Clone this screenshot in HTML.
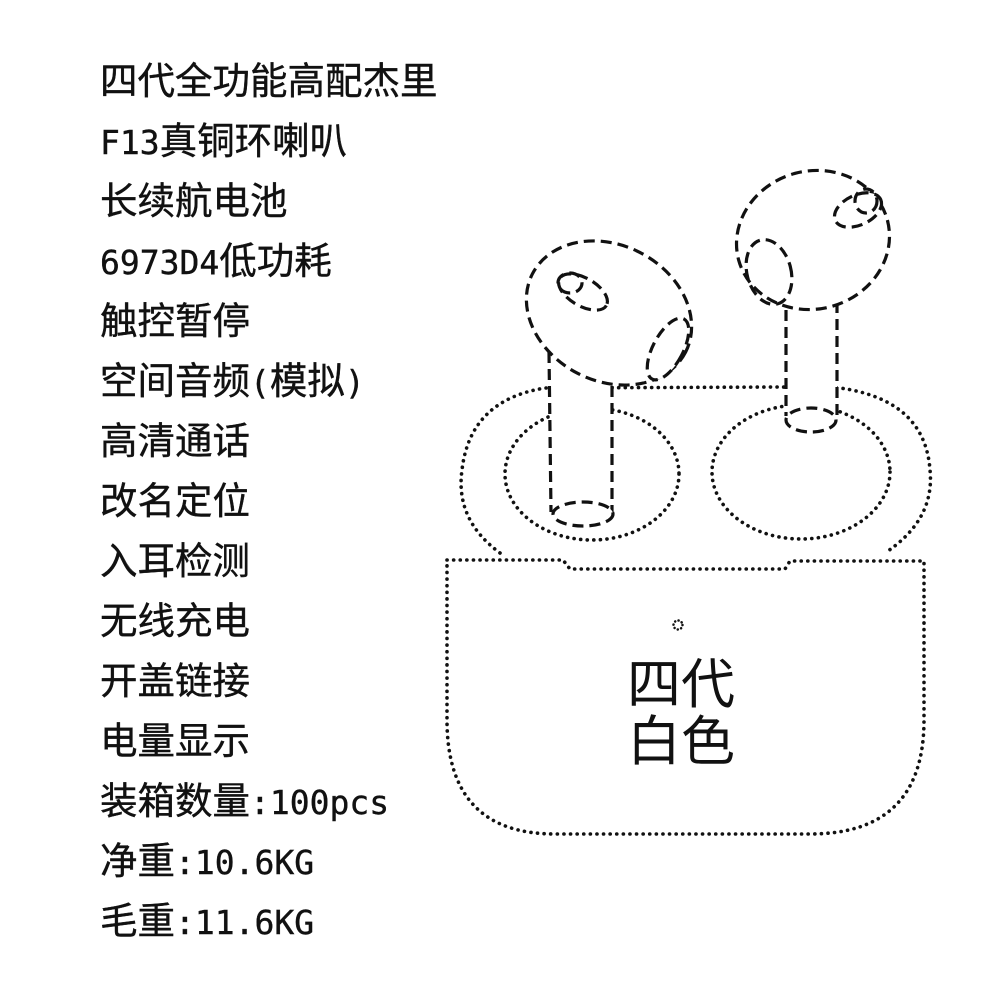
<!DOCTYPE html>
<html><head><meta charset="utf-8"><style>
html,body{margin:0;padding:0;background:#fff;}
body{width:1000px;height:1000px;position:relative;overflow:hidden;}
.t{position:absolute;left:100px;font-family:"DejaVu Sans Mono","Noto Sans CJK SC",monospace;font-size:37.5px;line-height:40px;color:#111;white-space:nowrap;-webkit-text-stroke:0.4px #111;}
.t span{font-size:33px;}
.c{position:absolute;left:627px;font-family:"Liberation Sans","Noto Sans CJK SC",sans-serif;font-size:54px;line-height:56px;color:#111;}
</style></head><body>
<div class="t" style="top:61px">四代全功能高配杰里</div>
<div class="t" style="top:121px"><span>F13</span>真铜环喇叭</div>
<div class="t" style="top:181px">长续航电池</div>
<div class="t" style="top:241px"><span>6973D4</span>低功耗</div>
<div class="t" style="top:301px">触控暂停</div>
<div class="t" style="top:361px">空间音频<span>(</span>模拟<span>)</span></div>
<div class="t" style="top:421px">高清通话</div>
<div class="t" style="top:481px">改名定位</div>
<div class="t" style="top:541px">入耳检测</div>
<div class="t" style="top:601px">无线充电</div>
<div class="t" style="top:661px">开盖链接</div>
<div class="t" style="top:721px">电量显示</div>
<div class="t" style="top:781px">装箱数量<span>:100pcs</span></div>
<div class="t" style="top:841px">净重<span>:10.6KG</span></div>
<div class="t" style="top:901px">毛重<span>:11.6KG</span></div>
<svg width="1000" height="1000" style="position:absolute;left:0;top:0">
<g fill="none" stroke="#111" stroke-width="3.6" stroke-dasharray="0.1 6.5" stroke-linecap="round">
<path d="M447 560 L563 560 L570 569 L785 569 L790 561 L924 561 L924 720 Q924 834 810 834 L555 834 Q447 834 447 720 Z"/>
<path d="M500 553 Q455 520 462 470 Q470 400 545 388 L780 387 L840 388 Q925 400 930 470 Q935 520 885 553"/>
<ellipse cx="592" cy="474" rx="87" ry="66"/>
<ellipse cx="801" cy="472" rx="89" ry="67"/>
<circle cx="678" cy="625" r="4.5" stroke-width="2.5" stroke-dasharray="0.1 3.5"/>
</g>
<g fill="#fff" stroke="#111" stroke-width="3.2" stroke-dasharray="11 6">
<path d="M549 350 L551 512 L612 512 L612 386 Z" fill="#fff" stroke="none"/>
<line x1="549" y1="352" x2="551" y2="512"/>
<line x1="612" y1="386" x2="612" y2="512"/>
<ellipse cx="583" cy="514" rx="30" ry="12"/>
<ellipse cx="609" cy="313" rx="86" ry="68" transform="rotate(27 609 313)"/>
<ellipse cx="583" cy="292" rx="27" ry="14" transform="rotate(30 583 292)"/>
<ellipse cx="570" cy="283" rx="12" ry="10" fill="none"/>
<ellipse cx="668" cy="349" rx="15" ry="34" transform="rotate(28 668 349)"/>
<rect x="786" y="305" width="51" height="112" fill="#fff" stroke="none"/>
<line x1="786" y1="310" x2="786" y2="416"/>
<line x1="837" y1="302" x2="837" y2="418"/>
<ellipse cx="811" cy="420" rx="25" ry="12"/>
<ellipse cx="813" cy="240" rx="77" ry="69" transform="rotate(-15 813 240)"/>
<ellipse cx="858" cy="210" rx="25" ry="15" transform="rotate(-25 858 210)"/>
<ellipse cx="866" cy="201" rx="11" ry="12" fill="none"/>
<ellipse cx="769" cy="272" rx="22" ry="33" transform="rotate(-15 769 272)" fill="none"/>
</g>
</svg>
<div class="c" style="top:657px">四代</div>
<div class="c" style="top:714px">白色</div>
</body></html>
